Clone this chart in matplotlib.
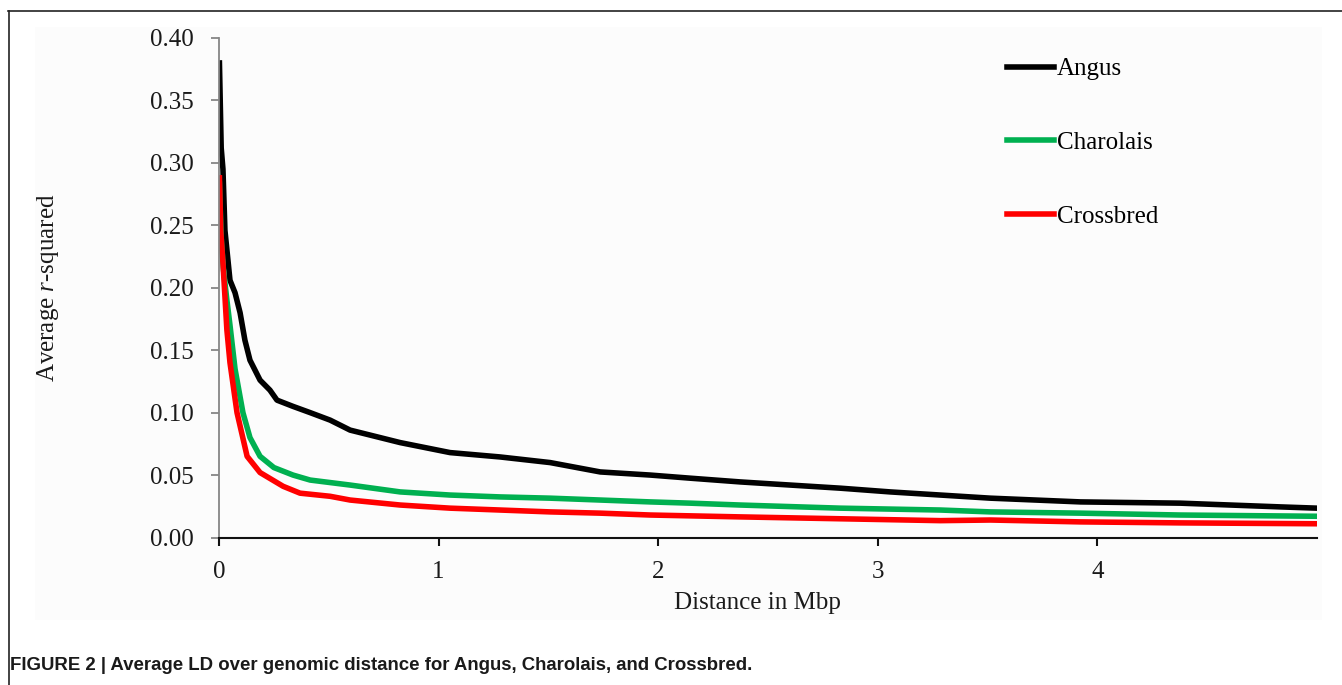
import numpy as np
import matplotlib
matplotlib.use("Agg")
import matplotlib.pyplot as plt
from matplotlib.lines import Line2D
from matplotlib.patches import Rectangle

plt.rcParams['font.family'] = ['Liberation Serif', 'DejaVu Serif']
plt.rcParams['mathtext.fontset'] = 'custom'
plt.rcParams['mathtext.rm'] = 'Liberation Serif'
plt.rcParams['mathtext.it'] = 'Liberation Serif:italic'

# values (distance in Mbp, average r-squared)
angus_x = [0.002, 0.010, 0.018, 0.027, 0.050, 0.073, 0.096, 0.118, 0.141, 0.187, 0.232,
           0.264, 0.337, 0.415, 0.506, 0.597, 0.825, 1.052, 1.280, 1.508, 1.736, 1.964,
           2.146, 2.374, 2.601, 2.829, 3.057, 3.285, 3.513, 3.923, 4.378, 4.834, 5.000]
angus_y = [0.380, 0.312, 0.295, 0.246, 0.206, 0.196, 0.180, 0.158, 0.142, 0.126, 0.118,
           0.110, 0.105, 0.100, 0.094, 0.086, 0.076, 0.068, 0.0645, 0.060, 0.0525, 0.050,
           0.0475, 0.0445, 0.042, 0.0395, 0.0365, 0.034, 0.0315, 0.0285, 0.0275, 0.0245, 0.0235]

charolais_x = [0.002, 0.010, 0.020, 0.036, 0.050, 0.073, 0.109, 0.141, 0.187, 0.250, 0.337,
               0.415, 0.506, 0.597, 0.825, 1.052, 1.280, 1.508, 1.736, 1.964, 2.146, 2.374,
               2.829, 3.285, 3.513, 3.923, 4.378, 5.000]
charolais_y = [0.283, 0.240, 0.215, 0.190, 0.170, 0.135, 0.100, 0.080, 0.065, 0.056, 0.050,
               0.046, 0.044, 0.042, 0.0365, 0.034, 0.0325, 0.0315, 0.030, 0.0285, 0.0275, 0.026,
               0.0235, 0.022, 0.0205, 0.0195, 0.018, 0.017]

crossbred_x = [0.002, 0.008, 0.018, 0.036, 0.050, 0.082, 0.128, 0.187, 0.292, 0.369, 0.506,
               0.597, 0.825, 1.052, 1.280, 1.508, 1.736, 1.964, 2.374, 2.829, 3.285, 3.513,
               3.923, 4.378, 5.000]
crossbred_y = [0.288, 0.245, 0.220, 0.166, 0.140, 0.100, 0.065, 0.052, 0.041, 0.0355, 0.033,
               0.030, 0.026, 0.0235, 0.022, 0.0205, 0.0195, 0.018, 0.0165, 0.015, 0.0135, 0.014,
               0.0125, 0.0117, 0.011]

W, H = 1342, 685
fig = plt.figure(figsize=(W / 100, H / 100), dpi=100)

# faint panel and frame
fig.patches.append(Rectangle((35 / W, 1 - 620 / H), (1322 - 35) / W, (620 - 27) / H,
                             transform=fig.transFigure, facecolor='#fcfcfc', edgecolor='none', zorder=-5))
fig.lines.append(Line2D([8.5 / W, 8.5 / W], [0, 1 - 11 / H], transform=fig.transFigure, color='#222222', lw=1.2))
fig.lines.append(Line2D([8 / W, 1], [1 - 11 / H, 1 - 11 / H], transform=fig.transFigure, color='#222222', lw=1.2))

ax = fig.add_axes([219 / W, 1 - 537.5 / H, (1317 - 219) / W, (537.5 - 38) / H])
ax.set_facecolor('none')
ax.set_zorder(2)

lw = 4.0
ax.plot(angus_x, angus_y, color='black', lw=lw, label='Angus', solid_joinstyle='round')
ax.plot(charolais_x, charolais_y, color='#00b050', lw=lw, label='Charolais', solid_joinstyle='round')
ax.plot(crossbred_x, crossbred_y, color='#ff0000', lw=lw, label='Crossbred', solid_joinstyle='round')

ax.set_xlim(0, 5)
ax.set_ylim(0, 0.40)
ax.set_xticks([0, 1, 2, 3, 4])
ax.set_yticks(np.arange(0, 0.41, 0.05))
ax.set_yticklabels(['%.2f' % v for v in np.arange(0, 0.41, 0.05)])

for s in ['top', 'right']:
    ax.spines[s].set_visible(False)
ax.spines['left'].set_color('#868686')
ax.spines['left'].set_linewidth(1.3)
ax.spines['bottom'].set_color('#111111')
ax.spines['bottom'].set_linewidth(1.5)
ax.tick_params(axis='y', direction='out', length=6, width=1.3, color='#868686',
               labelsize=18, pad=12, labelcolor='#1a1a1a')
ax.tick_params(axis='x', direction='out', length=6, width=1.5, color='#111111',
               labelsize=18, pad=11, labelcolor='#1a1a1a')

fig.text(757 / W, 1 - 603 / H, 'Distance in Mbp', fontsize=18, ha='center', va='center', color='#1a1a1a')
fig.text(48 / W, 1 - 288 / H, r'Average $\mathit{r}$-squared', fontsize=18, ha='center', va='center',
         rotation=90, color='#1a1a1a')

ax.legend(loc='upper left', bbox_to_anchor=((1007 - 219) / (1317 - 219), 0.96), frameon=False,
          fontsize=18, handlelength=1.9, handletextpad=0.1, labelspacing=2.05, borderpad=0,
          borderaxespad=0)

fig.text(10 / W, 1 - 665 / H, 'FIGURE 2 | Average LD over genomic distance for Angus, Charolais, and Crossbred.',
         fontsize=13.4, fontweight='bold', family=['Liberation Sans', 'DejaVu Sans'],
         ha='left', va='center', color='#1a1a1a')

fig.savefig('out.png', dpi=100, facecolor='white')
